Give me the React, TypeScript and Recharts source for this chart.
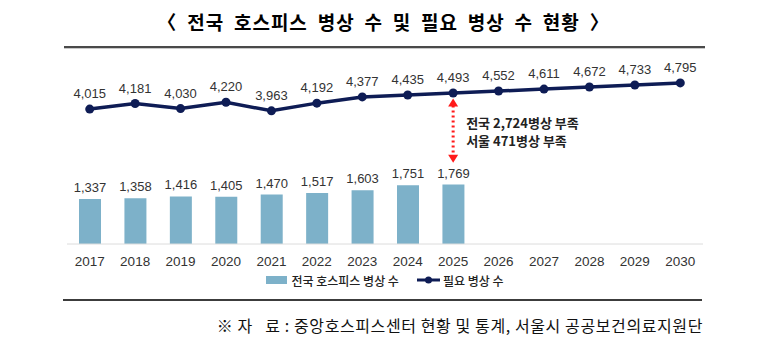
import React from 'react';
import { ComposedChart, Bar, Line, XAxis, YAxis, Legend, LabelList, ReferenceLine } from 'recharts';

const years = ['2017', '2018', '2019', '2020', '2021', '2022', '2023', '2024', '2025', '2026', '2027', '2028', '2029', '2030'];
const currentBeds = [1337, 1358, 1416, 1405, 1470, 1517, 1603, 1751, 1769, null, null, null, null, null];
const neededBeds = [4015, 4181, 4030, 4220, 3963, 4192, 4377, 4435, 4493, 4552, 4611, 4672, 4733, 4795];
const shortageNotes = ['전국 2,724병상 부족', '서울 471병상 부족'];

const data = years.map((year, i) => ({
  year,
  current: currentBeds[i],
  needed: neededBeds[i],
}));

const BAR_COLOR = '#7DB1C9';
const LINE_COLOR = '#0E1C55';
const NUM_FONT = '"Liberation Sans", Arial, sans-serif';
const KR_FONT = '"Noto Sans CJK KR", "Noto Sans", sans-serif';

const fmt = (v: any) => (v == null ? '' : Number(v).toLocaleString('en-US'));

function ShortageArrow(props: any) {
  const { x1, y1, y2 } = props;
  const x = x1;
  return (
    <g>
      <line x1={x} y1={y1 + 7} x2={x} y2={y2 - 7} stroke="#FF1A1A" strokeWidth={3} strokeDasharray="2 3" />
      <polygon points={`${x},${y1} ${x - 5},${y1 + 8} ${x + 5},${y1 + 8}`} fill="#FF1A1A" />
      <polygon points={`${x},${y2} ${x - 5},${y2 - 8} ${x + 5},${y2 - 8}`} fill="#FF1A1A" />
      {shortageNotes.map((t, i) => (
        <text
          key={t}
          x={x + 13}
          y={y1 + 24 + i * 18}
          dominantBaseline="central"
          fontFamily={KR_FONT}
          fontWeight={700}
          fontSize={13}
          fill="#222"
        >
          {t}
        </text>
      ))}
    </g>
  );
}

function LegendBox() {
  return (
    <div style={{ display: 'flex', justifyContent: 'center', alignItems: 'center', height: 20, fontFamily: KR_FONT, fontSize: 12, fontWeight: 500, color: '#222' }}>
      <svg width={22} height={10} style={{ marginRight: 3 }}>
        <rect x={0} y={1} width={21} height={8} fill={BAR_COLOR} />
      </svg>
      <span style={{ marginRight: 18 }}>전국 호스피스 병상 수</span>
      <svg width={24} height={10} style={{ marginRight: 2 }}>
        <line x1={0} y1={5} x2={23} y2={5} stroke={LINE_COLOR} strokeWidth={3} />
        <circle cx={11.5} cy={5} r={3.5} fill={LINE_COLOR} />
      </svg>
      <span>필요 병상 수</span>
    </div>
  );
}

export default function App() {
  return (
    <div style={{ position: 'absolute', left: 0, top: 0, width: 767, height: 356, background: '#fff', overflow: 'hidden' }}>
      <div
        style={{
          position: 'absolute',
          left: 0,
          width: 767,
          top: 9,
          textAlign: 'center',
          fontFamily: KR_FONT,
          fontWeight: 700,
          fontSize: 19,
          letterSpacing: 1,
          wordSpacing: 4.5,
          color: '#000',
          whiteSpace: 'pre',
          lineHeight: '26px',
        }}
      >
        〈 전국 호스피스 병상 수 및 필요 병상 수 현황 〉
      </div>
      <div style={{ position: 'absolute', left: 64, width: 641, top: 46, height: 2, background: '#4a4a4a' }} />
      <div style={{ position: 'absolute', left: 64, width: 641, top: 48, height: 1, background: '#c8c8c8' }} />

      <ComposedChart width={767} height={356} data={data} margin={{ top: 76, right: 64, bottom: 66, left: 67 }}>
        <XAxis
          dataKey="year"
          height={26}
          tickLine={false}
          axisLine={{ stroke: '#dcdcdc' }}
          tickMargin={6}
          tick={{ fill: '#333', fontSize: 13.5, fontFamily: NUM_FONT }}
          interval={0}
        />
        <YAxis hide domain={[0, 5000]} />
        <Legend verticalAlign="bottom" align="center" height={20} content={() => <LegendBox />} />
        <Bar dataKey="current" fill={BAR_COLOR} barSize={22} isAnimationActive={false}>
          <LabelList dataKey="current" position="top" offset={7} formatter={fmt} fill="#333" fontSize={13} fontFamily={NUM_FONT} />
        </Bar>
        <Line
          dataKey="needed"
          stroke={LINE_COLOR}
          strokeWidth={3.5}
          dot={{ r: 4.5, fill: LINE_COLOR, stroke: LINE_COLOR, strokeWidth: 0 }}
          isAnimationActive={false}
        >
          <LabelList dataKey="needed" position="top" offset={11} formatter={fmt} fill="#333" fontSize={13} fontFamily={NUM_FONT} />
        </Line>
        <ReferenceLine
          segment={[{ x: '2025', y: 4330 }, { x: '2025', y: 2420 }]}
          shape={(p: any) => <ShortageArrow {...p} />}
        />
      </ComposedChart>

      <div style={{ position: 'absolute', left: 63, width: 639, top: 299, height: 2, background: '#3c3c3c' }} />
      <div
        style={{
          position: 'absolute',
          right: 64,
          top: 314,
          fontFamily: KR_FONT,
          fontSize: 16,
          letterSpacing: 0.6,
          color: '#111',
          whiteSpace: 'pre',
          lineHeight: '22px',
        }}
      >
        ※ 자   료 : 중앙호스피스센터 현황 및 통계, 서울시 공공보건의료지원단
      </div>
    </div>
  );
}
